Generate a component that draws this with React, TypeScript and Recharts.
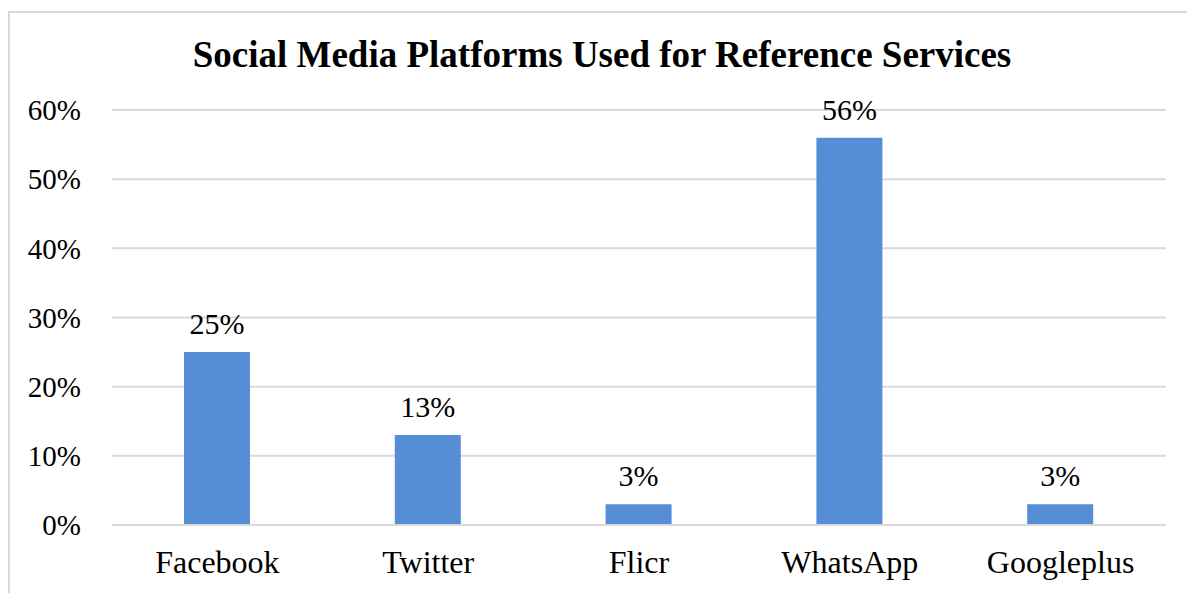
import { Bar, BarChart, CartesianGrid, LabelList, XAxis, YAxis } from "recharts";

const platforms = ["Facebook", "Twitter", "Flicr", "WhatsApp", "Googleplus"];
const shares = [0.25, 0.13, 0.03, 0.56, 0.03];
const yTicks = [0, 0.1, 0.2, 0.3, 0.4, 0.5, 0.6];

const data = platforms.map((name, i) => ({ name, value: shares[i] }));

const pct = (v: number) => `${Math.round(v * 100)}%`;
const font = "Liberation Serif, serif";

export default function App() {
  return (
    <div style={{ position: "absolute", left: 0, top: 0, width: 1187, height: 593, background: "#fff" }}>
      <div
        style={{
          position: "absolute",
          left: 8,
          top: 11,
          width: 1179,
          height: 582,
          borderLeft: "2px solid #d9d9d9",
          borderTop: "2px solid #d9d9d9",
          boxSizing: "border-box",
        }}
      />
      <div
        style={{
          position: "absolute",
          left: 0,
          width: 1204,
          top: 33,
          textAlign: "center",
          fontFamily: font,
          fontWeight: "bold",
          fontSize: 37,
          color: "#000",
        }}
      >
        Social Media Platforms Used for Reference Services
      </div>
      <div style={{ position: "absolute", left: 0, top: 0 }}>
        <BarChart
          width={1187}
          height={593}
          data={data}
          margin={{ top: 110, right: 21, left: 12, bottom: 28 }}
        >
          <CartesianGrid vertical={false} stroke="#d9d9d9" strokeWidth={2} />
          <XAxis
            dataKey="name"
            axisLine={{ stroke: "#d9d9d9", strokeWidth: 2 }}
            tickLine={false}
            tickSize={0}
            tickMargin={25}
            height={40}
            tick={{ fontSize: 32, fill: "#000", fontFamily: font }}
          />
          <YAxis
            domain={[0, 0.6]}
            ticks={yTicks}
            tickFormatter={pct}
            axisLine={false}
            tickLine={false}
            tickSize={0}
            tickMargin={31}
            width={100}
            tick={{ fontSize: 29, fill: "#000", fontFamily: font }}
          />
          <Bar dataKey="value" fill="#558ed5" barSize={66} isAnimationActive={false}>
            <LabelList
              dataKey="value"
              position="top"
              offset={18}
              formatter={(v: any) => pct(Number(v))}
              style={{ fontSize: 30, fill: "#000", fontFamily: font }}
            />
          </Bar>
        </BarChart>
      </div>
    </div>
  );
}
